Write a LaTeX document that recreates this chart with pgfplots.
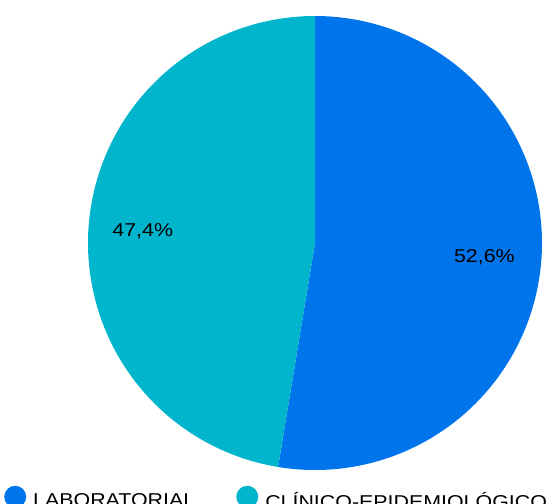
\documentclass[border=0pt]{standalone}
\usepackage{pgfplots}
\pgfplotsset{compat=1.18}
\usepackage{fontspec}
\setmainfont{Liberation Sans}[FakeStretch=1.15]
\definecolor{pieblue}{RGB}{0,116,234}
\definecolor{pieteal}{RGB}{0,181,204}
\begin{document}
\begin{tikzpicture}[x=1pt,y=1pt]
\clip (0,0) rectangle (555,-504);
\useasboundingbox (0,0) rectangle (555,-504);
\begin{axis}[
  hide axis, x=227pt, y=227pt,
  xmin=-1.2, xmax=1.2, ymin=-1.2, ymax=1.2,
  anchor=origin, at={(315pt,-243pt)}, clip=false,
  legend columns=2,
  legend style={draw=none, fill=none, at={(axis cs:-1.37,-1.122)}, anchor=west,
    font=\fontsize{18.6}{20}\selectfont, inner sep=0pt,
    nodes={inner sep=0pt},
    /tikz/every odd column/.append style={column sep=7pt},
    /tikz/every even column/.append style={column sep=41pt}},
  legend image code/.code={\fill[#1] (11pt,0.4em) circle (11pt);},
]
\addplot[fill=pieblue, draw=none, domain=0:52.6, samples=200]
  ({sin(3.6*x)},{cos(3.6*x)}) -- (0,0) -- cycle;
\addlegendentry{LABORATORIAL}
\addplot[fill=pieteal, draw=none, domain=52.6:100, samples=200]
  ({sin(3.6*x)},{cos(3.6*x)}) -- (0,0) -- cycle;
\addlegendentry{CLÍNICO-EPIDEMIOLÓGICO}
\node[font=\fontsize{18.6}{20}\selectfont] at (axis cs:-0.759,0.051) {47,4\%};
\node[font=\fontsize{18.6}{20}\selectfont] at (axis cs:0.746,-0.064) {52,6\%};
\end{axis}
\end{tikzpicture}
\end{document}
